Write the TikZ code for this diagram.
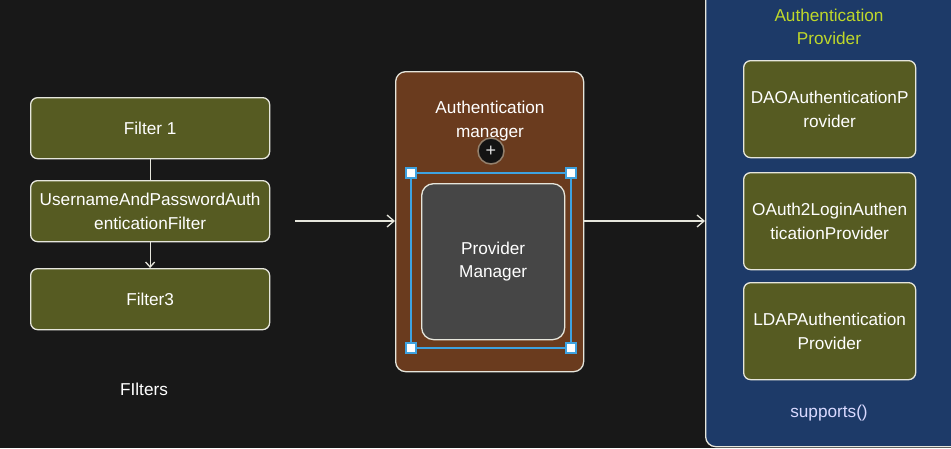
\documentclass[tikz,border=0pt]{standalone}
\usepackage{fontspec}
\setmainfont{Liberation Sans}
\usetikzlibrary{arrows.meta,positioning}
\definecolor{bg}{HTML}{181818}
\definecolor{olive}{HTML}{565B22}
\definecolor{brownbox}{HTML}{6A3B1E}
\definecolor{graybox}{HTML}{464646}
\definecolor{bluebox}{HTML}{1D3A68}
\definecolor{edge}{HTML}{E6E6DC}
\definecolor{titlegreen}{HTML}{BFD82A}
\definecolor{selblue}{HTML}{3EA2E0}
\tikzset{
  box/.style={draw=edge, line width=1.3pt, rounded corners=7pt, text=white, font=\fontsize{17.2}{23.5}\selectfont, align=center, inner sep=0pt, anchor=north west},
  oliveA/.style={box, fill=olive, minimum width=239pt, minimum height=61pt},
  oliveB/.style={box, fill=olive, minimum width=172pt, minimum height=97pt},
  lbl/.style={text=white, font=\fontsize{17.2}{23.5}\selectfont, align=center},
  conn/.style={draw=edge, line width=1.3pt},
  arr/.style={conn, -{Straight Barb[length=7pt,width=12pt,line width=1.3pt]}},
  smallarr/.style={conn, -{Straight Barb[length=5pt,width=9pt,line width=1.3pt]}},
  handle/.style={draw=selblue, fill=white, line width=1.2pt, minimum size=10pt, inner sep=0pt}
}
\begin{document}
\begin{tikzpicture}[x=1pt,y=-1pt]
\useasboundingbox (0,0) rectangle (951,448);
\fill[bg] (0,0) rectangle (951,448);
% Filters
\node[oliveA] (f1) at (30,97) {Filter 1};
\node[oliveA] (f2) at (30,180) {UsernameAndPasswordAuth\\enticationFilter};
\node[oliveA] (f3) at (30,268) {Filter3};
\draw[conn] (f1.south) -- (f2.north);
\draw[smallarr] (f2.south) -- (f3.north);
\node[lbl] (flt) at (144,389) {FIlters};
% Authentication manager
\node[box, fill=brownbox, minimum width=188pt, minimum height=300pt, rounded corners=10pt] (am) at (395,71) {};
\node[lbl] (amt) at (490,121) {Authentication\\manager};
\node[draw=gray!70!brown, fill=bg!80!black, circle, minimum size=26pt, inner sep=0pt, line width=1.5pt, text=white!80!gray, font=\fontsize{18}{18}\selectfont] (plus) at (491,151) {+};
\draw[draw=selblue, line width=2pt] (411,173) rectangle (571,348);
\node[box, fill=graybox, minimum width=143pt, minimum height=156pt, rounded corners=12pt] (pm) at (421,183) {Provider\\Manager};
\node[handle] (h1) at (411,173) {};
\node[handle] (h2) at (571,173) {};
\node[handle] (h3) at (411,348) {};
\node[handle] (h4) at (571,348) {};
% Authentication provider
\begin{scope}
\clip (0,0) rectangle (951,448);
\node[box, fill=bluebox, minimum width=270pt, minimum height=470pt, rounded corners=10pt] (ap) at (705,-24) {};
\end{scope}
\node[lbl, text=titlegreen] (apt) at (829,27) {Authentication\\Provider};
\node[oliveB] (p1) at (743,60) {DAOAuthenticationP\\rovider};
\node[oliveB] (p2) at (743,172) {OAuth2LoginAuthen\\ticationProvider};
\node[oliveB] (p3) at (743,282) {LDAPAuthentication\\Provider};
\node[lbl, text=white!85!blue] (sup) at (829,413) {supports()};
% connectors
\coordinate (a1s) at (295,221);
\draw[arr] (a1s) -- (am.west |- a1s);
\draw[arr] (am.east |- a1s) -- (ap.west |- a1s);
\end{tikzpicture}
\end{document}
